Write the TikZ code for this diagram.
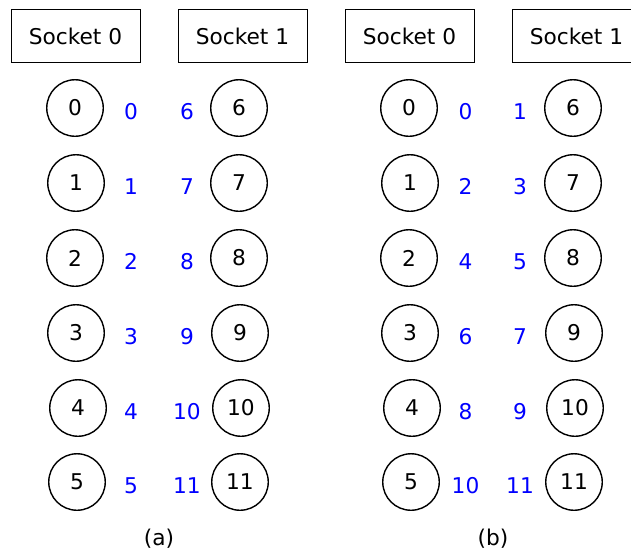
\documentclass[tikz,border=0pt]{standalone}
\usepackage{fontspec}
\setmainfont{DejaVu Sans}
\begin{document}
\begin{tikzpicture}[x=1pt,y=-1pt,
  every node/.style={font=\fontsize{21.7}{26}\selectfont, inner sep=0pt},
  sockbox/.style={draw, line width=1pt, minimum width=129pt, minimum height=53.5pt},
  core/.style={draw, circle, line width=1.4pt, minimum size=56.5pt},
  lbl/.style={text=blue},
  captxt/.style={}]
\useasboundingbox (0,0) rectangle (631,550);
\fill[white] (0,0) rectangle (631,550);
% panel (a)
\node[sockbox] (sa0) at (75.5,36) {Socket 0};
\node[sockbox] (sa1) at (242.5,36) {Socket 1};
% panel (b)
\node[sockbox] (sb0) at (409.5,36) {Socket 0};
\node[sockbox] (sb1) at (576.5,36) {Socket 1};
% rows
\foreach \i/\y/\xl/\xr/\bl/\br in {
  0/108/75/239/0/1,
  1/183/76/239/2/3,
  2/258/75/239/4/5,
  3/333/76/240/6/7,
  4/408/78/241/8/9,
  5/482/77/240/10/11}{
  \pgfmathtruncatemacro{\j}{\i+6}
  \node[core] (a\i) at (\xl,\y) {\i};
  \node[core] (a\j) at (\xr,\y) {\j};
  \node[lbl] (al\i) at (131,\y+3.5) {\i};
  \node[lbl] (ar\i) at (187,\y+3.5) {\j};
  \node[core] (b\i) at (\xl+334,\y) {\i};
  \node[core] (b\j) at (\xr+334,\y) {\j};
  \node[lbl] (bl\i) at (465.5,\y+3.5) {\bl};
  \node[lbl] (br\i) at (520,\y+3.5) {\br};
}
\node[captxt] (capa) at (159,539) {(a)};
\node[captxt] (capb) at (493,539) {(b)};
\end{tikzpicture}
\end{document}
